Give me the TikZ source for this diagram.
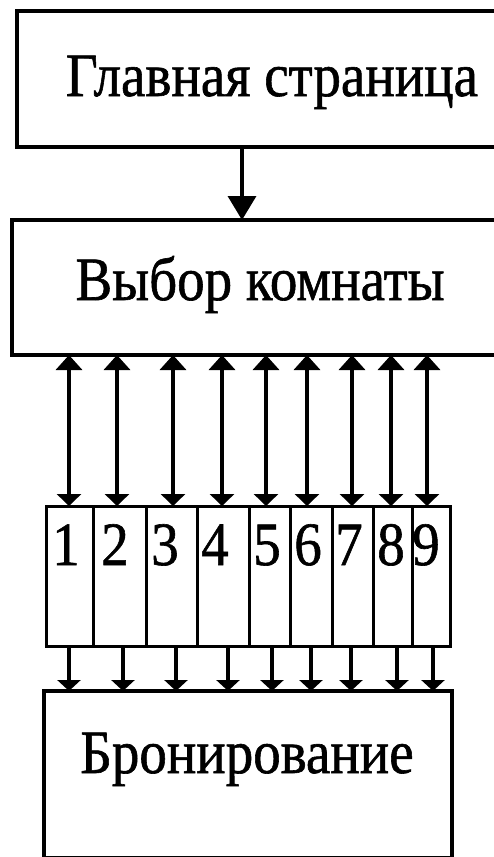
\documentclass[tikz,border=0pt]{standalone}
\usepackage{fontspec}
\usepackage{graphicx}
\setmainfont[FakeBold=1]{Liberation Serif}
\usetikzlibrary{arrows.meta}
\newcommand{\tall}[1]{\scalebox{1}[1.12]{#1}}
\begin{document}
\begin{tikzpicture}[x=1pt,y=-1pt,
  box/.style={draw, line width=4pt, rectangle, inner sep=0pt, outer sep=0pt, anchor=north west},
  cell/.style={draw, line width=3pt, rectangle, inner sep=0pt, outer sep=0pt, anchor=north west, minimum height=140pt},
  lbl/.style={anchor=base, inner sep=0pt, font=\fontsize{55}{60}\selectfont},
  mainarrow/.style={line width=3.5pt, -{Triangle[length=24pt,width=28pt]}},
  dblarrow/.style={line width=3.5pt, {Triangle[length=15pt,width=26pt]}-{Triangle[length=12pt,width=24pt]}},
  downarrow/.style={line width=3.5pt, -{Triangle[length=11pt,width=23pt]}}
]
\useasboundingbox (0,0) rectangle (493,857);
\fill[white] (0,0) rectangle (493,857);

% boxes
\node[box, minimum width=493pt, minimum height=136pt] (home) at (17,11) {};
\node[box, minimum width=498pt, minimum height=135pt] (sel) at (12,220) {};
\node[box, minimum width=408pt, minimum height=167pt] (book) at (44,691) {};

\node[lbl] (thome) at (272,96) {\tall{Главная страница}};
\node[lbl] (tsel) at (260,300) {\tall{Выбор комнаты}};
\node[lbl] (tbook) at (247,773) {\tall{Бронирование}};

% cells
\foreach \i/\xa/\xb in {1/46/93, 2/93/146, 3/146/197, 4/197/249, 5/249/290, 6/290/332, 7/332/373, 8/373/412, 9/412/450}{
  \pgfmathsetmacro{\w}{\xb-\xa}
  \node[cell, minimum width=\w pt] (c\i) at (\xa,506) {};
}
% digits
\foreach \i/\x in {1/66, 2/115, 3/165, 4/215, 5/267, 6/308, 7/349, 8/391, 9/426}{
  \node[lbl] (d\i) at (\x,565) {\tall{\i}};
}

% main arrow
\coordinate (m) at (242,0);
\draw[mainarrow] (home.south -| m) -- (sel.north -| m);

% middle arrows
\foreach \i/\x in {1/69, 2/117, 3/173, 4/222, 5/266, 6/307, 7/352, 8/391, 9/427}{
  \coordinate (a\i) at (\x,0);
  \draw[dblarrow] (sel.south -| a\i) -- (c\i.north -| a\i);
}
% bottom arrows
\foreach \i/\x in {1/69, 2/123, 3/176, 4/228, 5/272, 6/311, 7/351, 8/397, 9/433}{
  \coordinate (b\i) at (\x,0);
  \draw[downarrow] (c\i.south -| b\i) -- (book.north -| b\i);
}
\end{tikzpicture}
\end{document}
